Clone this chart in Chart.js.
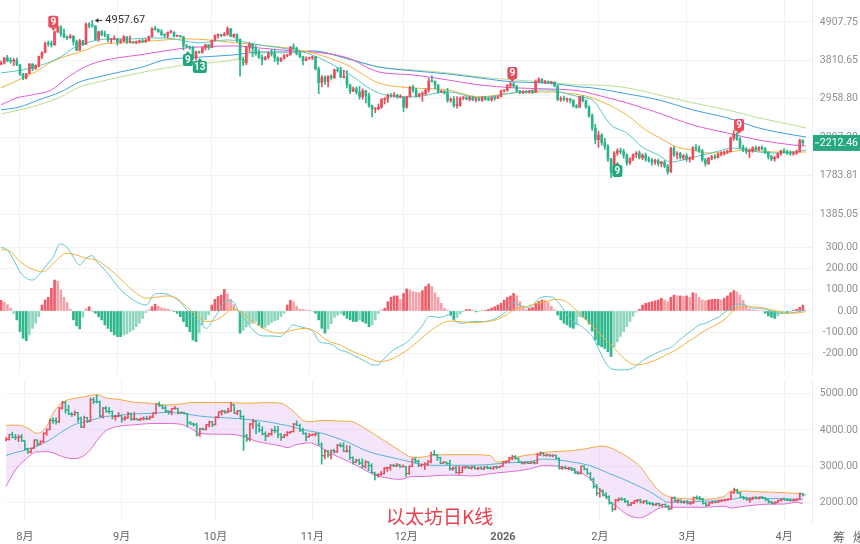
<!DOCTYPE html>
<html>
<head>
<meta charset="utf-8">
<title>以太坊日K线</title>
<script src="https://cdn.jsdelivr.net/npm/chart.js@4.4.1/dist/chart.umd.min.js"></script>
<style>
  html, body { margin: 0; padding: 0; background: #fff; }
  #wrap { position: relative; width: 860px; height: 544px; overflow: hidden; }
  canvas { position: absolute; left: 0; }
  #cPrice { top: 0; }
  #cMacd { top: 230px; }
  #cBoll { top: 375px; }
  .title { position: absolute; left: 386px; top: 506px; font-size: 19px; line-height: 1; color: #e8404e;
           font-family: "Noto Sans CJK SC", sans-serif; }
  .side { position: absolute; top: 531px; font-size: 12px; line-height: 1; color: #666;
          font-family: "Noto Sans CJK SC", sans-serif; }
</style>
</head>
<body>
<div id="wrap">
  <canvas id="cPrice" width="860" height="230"></canvas>
  <canvas id="cMacd" width="860" height="145"></canvas>
  <canvas id="cBoll" width="860" height="169"></canvas>
  <div class="title">以太坊日K线</div>
  <div class="side" style="left:833px">筹</div>
  <div class="side" style="left:853px">爆</div>
</div>
<script>
// day 0 = 2025-08-01, first candle 2025-07-26
const firstDay = -6;
const monthDays = [0, 31, 61, 92, 122, 153, 184, 212, 243];
const monthLabels = ['8月', '9月', '10月', '11月', '12月', '2026', '2月', '3月', '4月'];
const priceTicks = [1385.05, 1783.81, 2297.38, 2958.80, 3810.65, 4907.75];
const macdTicks = [-200, -100, 0, 100, 200, 300];
const bollTicks = [2000, 3000, 4000, 5000];
const lastPrice = 2212.46;

// [open, high, low, close]
const ohlc = [
  // Jul
  [3715,3790,3700,3745],[3745,3880,3720,3875],[3875,3940,3780,3795],[3795,3880,3735,3790],[3790,3860,3680,3810],[3810,3870,3680,3700],
  // Aug
  [3700,3710,3450,3480],[3480,3500,3355,3395],[3395,3500,3370,3495],[3495,3730,3490,3720],[3720,3730,3560,3610],
  [3610,3700,3590,3685],[3685,3920,3650,3910],[3910,4030,3850,4010],[4010,4300,4000,4260],[4260,4330,4180,4255],
  [4255,4330,4160,4225],[4225,4620,4200,4600],[4600,4790,4570,4750],[4750,4785,4460,4545],[4545,4680,4420,4440],
  [4440,4480,4370,4425],[4425,4520,4400,4475],[4475,4480,4220,4310],[4310,4355,4060,4075],[4075,4380,4065,4340],
  [4340,4350,4200,4230],[4230,4880,4230,4830],[4830,4890,4720,4780],[4780,4957.67,4740,4775],[4775,4790,4360,4380],
  [4380,4620,4320,4600],[4600,4640,4480,4510],[4510,4620,4450,4505],[4505,4520,4300,4365],[4365,4400,4270,4370],
  [4370,4480,4360,4390],
  // Sep
  [4390,4400,4210,4300],[4300,4380,4260,4330],[4330,4490,4310,4450],[4450,4460,4260,4300],[4300,4480,4270,4300],
  [4300,4320,4270,4275],[4275,4330,4250,4305],[4305,4360,4270,4310],[4310,4380,4280,4305],[4305,4390,4290,4350],
  [4350,4470,4340,4460],[4460,4720,4440,4710],[4710,4770,4640,4670],[4670,4690,4580,4600],[4600,4670,4480,4520],
  [4520,4530,4430,4500],[4500,4590,4420,4590],[4590,4650,4560,4590],[4590,4600,4440,4470],[4470,4500,4460,4480],
  [4480,4490,4440,4450],[4450,4460,4080,4200],[4200,4230,4150,4165],[4165,4190,4100,4150],[4150,4180,3830,3870],
  [3870,4050,3820,4030],[4030,4050,3990,4015],[4015,4150,3990,4140],[4140,4240,4080,4220],[4220,4230,4090,4145],
  // Oct
  [4145,4360,4140,4350],[4350,4500,4330,4490],[4490,4540,4410,4515],[4515,4530,4450,4490],[4490,4590,4470,4515],
  [4515,4755,4500,4690],[4690,4700,4450,4460],[4460,4540,4420,4525],[4525,4540,4300,4370],[4370,4390,3435,3830],
  [3830,3880,3680,3750],[3750,4180,3700,4160],[4160,4290,4040,4240],[4240,4250,3900,4125],[4125,4200,3940,3990],
  [3990,4090,3860,3890],[3890,3950,3700,3830],[3830,3910,3820,3885],[3885,4030,3850,3985],[3985,4100,3920,3980],
  [3980,4100,3780,3875],[3875,3900,3710,3800],[3800,3880,3780,3855],[3855,3960,3840,3930],[3930,3960,3900,3955],
  [3955,4180,3940,4160],[4160,4250,4110,4120],[4120,4160,3950,3985],[3985,4050,3880,3905],[3905,3920,3700,3810],
  [3810,3900,3800,3850],
  // Nov
  [3850,3890,3840,3875],[3875,3920,3830,3900],[3900,3910,3580,3600],[3600,3650,3060,3290],[3290,3450,3200,3410],
  [3410,3440,3250,3315],[3315,3450,3200,3430],[3430,3470,3360,3400],[3400,3600,3380,3580],[3580,3640,3530,3560],
  [3560,3650,3400,3410],[3410,3570,3390,3420],[3420,3560,3180,3240],[3240,3260,3060,3110],[3110,3200,3100,3160],
  [3160,3200,3050,3090],[3090,3210,2950,3000],[3000,3160,2950,3120],[3120,3130,2880,3020],[3020,3070,2800,2830],
  [2830,2840,2625,2765],[2765,2790,2700,2770],[2770,2860,2750,2800],[2800,2960,2780,2950],[2950,2980,2860,2960],
  [2960,3050,2890,3025],[3025,3060,2990,3010],[3010,3080,2990,3035],[3035,3050,2970,2990],[2990,3040,2980,2990],
  // Dec
  [2990,3000,2720,2800],[2800,3010,2780,3000],[3000,3210,2990,3190],[3190,3240,3090,3135],[3135,3170,2990,3020],
  [3020,3070,2990,3050],[3050,3100,2910,3060],[3060,3160,3030,3130],[3130,3390,3090,3325],[3325,3440,3300,3320],
  [3320,3330,3160,3240],[3240,3250,3070,3085],[3085,3130,3080,3110],[3110,3120,3050,3075],[3075,3170,2890,2930],
  [2930,2980,2890,2950],[2950,3000,2800,2830],[2830,3000,2780,2830],[2830,2990,2820,2975],[2975,3000,2940,2980],
  [2980,3000,2940,2950],[2950,3010,2920,2980],[2980,3010,2920,2940],[2940,2980,2900,2950],[2950,2990,2920,2930],
  [2930,3000,2910,2970],[2970,3010,2930,2950],[2950,2990,2920,2940],[2940,3000,2910,2980],[2980,3010,2930,2970],
  [2970,3010,2960,3000],
  // Jan
  [3000,3130,2990,3120],[3120,3140,3090,3130],[3130,3250,3110,3230],[3230,3300,3180,3260],[3260,3300,3190,3220],
  [3220,3230,3100,3110],[3110,3130,3060,3090],[3090,3120,3060,3100],[3100,3120,3070,3085],[3085,3130,3070,3100],
  [3100,3140,3060,3090],[3090,3350,3080,3320],[3320,3400,3290,3360],[3360,3380,3280,3300],[3300,3340,3270,3310],
  [3310,3330,3270,3290],[3290,3320,3260,3300],[3300,3310,3200,3220],[3220,3230,2920,2950],[2950,3000,2910,2960],
  [2960,3010,2920,2940],[2940,2980,2900,2950],[2950,2970,2880,2930],[2930,2940,2800,2820],[2820,2850,2780,2800],
  [2800,3010,2790,3000],[3000,3020,2900,2920],[2920,2940,2780,2800],[2800,2830,2620,2640],[2640,2680,2400,2440],
  [2440,2500,2200,2260],
  // Feb
  [2260,2390,2150,2330],[2330,2350,2180,2220],[2220,2280,2120,2160],[2160,2190,1960,1990],[1990,2000,1760,1820],
  [1820,2090,1800,2070],[2070,2130,2040,2100],[2100,2140,2060,2090],[2090,2120,2000,2040],[2040,2060,1910,1940],
  [1940,2010,1920,1990],[1990,2060,1970,2050],[2050,2090,2010,2070],[2070,2100,1990,2010],[2010,2060,1980,2040],
  [2040,2070,1960,1990],[1990,2020,1950,1970],[1970,2000,1910,1950],[1950,1990,1920,1970],[1970,1990,1900,1930],
  [1930,1960,1890,1950],[1950,1970,1880,1900],[1900,1920,1800,1830],[1830,2150,1820,2130],[2130,2160,2020,2050],
  [2050,2090,1990,2060],[2060,2080,1990,2010],[2010,2050,1980,2030],
  // Mar
  [2030,2060,1960,1990],[1990,2020,1950,1990],[1990,2160,1980,2140],[2140,2190,2100,2130],[2130,2170,2080,2100],
  [2100,2120,1960,1980],[1980,2000,1900,1930],[1930,2010,1920,2000],[2000,2040,1980,2020],[2020,2050,1990,2010],
  [2010,2070,2000,2050],[2050,2090,2030,2060],[2060,2100,2040,2080],[2080,2110,2060,2090],[2090,2300,2080,2280],
  [2280,2400,2250,2350],[2350,2370,2250,2270],[2270,2290,2130,2150],[2150,2180,2090,2120],[2120,2150,2060,2090],
  [2090,2130,2010,2100],[2100,2160,2080,2140],[2140,2170,2100,2120],[2120,2160,2100,2150],[2150,2170,2110,2130],
  [2130,2150,2060,2080],[2080,2090,1990,2020],[2020,2040,1970,1990],[1990,2030,1960,2010],[2010,2070,2000,2060],
  [2060,2110,2040,2100],
  // Apr
  [2100,2130,2070,2080],[2080,2110,2050,2070],[2070,2100,2040,2060],[2060,2090,2040,2070],[2070,2110,2050,2090],
  [2090,2270,2080,2250],[2250,2260,2180,2212.46]
];

// moving averages: [day, price]
const maTeal = [[-6,3510],[1,3580],[7,3700],[13,3900],[17,4136],[21,4274],[25,4360],[31,4390],[36,4390],[41,4417],[46,4417],[57,4274],[66,4360],[76,4218],[87,4081],[93,3950],[104,3509],[114,3077],[125,2997],[136,3097],[146,2977],[157,3077],[167,3138],[178,2997],[182,2939],[188,2490],[193,2361],[198,2153],[203,2043],[207,1951],[212,1990],[217,2043],[221,2084],[227,2139],[231,2111],[235,2084],[240,2070],[246,2084],[250,2111]];
const maOrange = [[-6,3180],[1,3396],[5,3533],[10,3773],[16,3950],[21,4081],[25,4218],[31,4274],[38,4302],[46,4360],[54,4389],[66,4302],[76,4218],[87,4109],[93,4002],[104,3698],[114,3286],[125,3180],[136,3138],[146,2997],[157,3077],[167,3097],[178,3037],[182,2977],[193,2661],[199,2409],[203,2300],[209,2153],[214,2111],[219,2070],[225,2084],[231,2111],[240,2084],[250,2084]];
const maPink = [[-6,2843],[-1,2977],[4,3037],[10,3138],[15,3396],[20,3626],[25,3773],[31,3873],[38,3950],[46,4055],[53,4136],[68,4190],[76,4136],[87,4055],[93,4028],[104,3880],[114,3533],[125,3463],[136,3351],[146,3243],[157,3180],[167,3159],[178,3117],[182,3057],[193,2881],[203,2696],[214,2490],[225,2361],[235,2255],[246,2182],[250,2168]];
const maBlue = [[-6,2750],[0,2806],[6,2939],[13,3097],[19,3307],[25,3418],[32,3533],[38,3626],[46,3822],[53,3873],[68,3950],[76,4028],[87,4028],[93,4055],[104,3860],[114,3650],[125,3556],[136,3486],[146,3396],[157,3307],[167,3286],[178,3200],[182,3180],[193,3057],[203,2939],[214,2750],[225,2608],[235,2441],[246,2331],[250,2300]];
const maLime = [[-6,2679],[0,2750],[6,2843],[13,2997],[19,3200],[25,3307],[32,3418],[38,3509],[46,3620],[53,3700],[68,3822],[76,4002],[87,4002],[93,4055],[104,3850],[114,3650],[125,3579],[136,3509],[146,3418],[157,3351],[167,3307],[178,3243],[182,3243],[193,3180],[203,3037],[214,2881],[225,2750],[235,2608],[246,2490],[250,2441]];

// TD sequential labels
const tdDays = [10.6, 53.4, 57.2, 156.6, 190, 228.7];
const tdPrices = [4918, 3822, 3650, 3509, 1838, 2490];
const tdLabels = ['9', '9', '13', '9', '9', '9'];
const tdSell = [true, false, false, true, false, true];

// MACD histogram, one value per candle
const macdHist = [
  50,42,30,14,-11,-42,-97,-129,-140,-113,
  -82,-58,-27,28,52,64,107,146,140,100,
  65,40,8,-42,-70,-85,-30,10,20,-3,
  -11,-27,-42,-66,-82,-97,-113,-121,-121,-113,
  -108,-97,-90,-74,-58,-35,-8,5,20,32,
  22,15,12,8,3,-3,-11,-27,-50,-74,
  -97,-137,-145,-105,-66,-42,-19,28,55,68,
  75,102,80,55,30,5,-105,-92,-76,-62,
  -58,-50,-66,-80,-77,-66,-55,-46,-42,-27,
  -11,28,50,44,22,8,7,5,3,-2,
  -11,-42,-82,-105,-85,-60,-30,-20,-12,-20,
  -35,-42,-50,-50,-42,-50,-58,-74,-66,-42,
  -12,5,13,44,64,71,71,55,83,104,
  99,91,88,86,96,115,127,115,85,64,
  36,13,4,-19,-42,-30,-14,-3,7,7,
  2,-4,-2,1,3,8,14,20,28,36,
  52,64,71,83,71,44,23,8,13,17,
  36,45,52,50,40,22,5,-19,-42,-58,
  -66,-77,-82,-66,-27,-30,-40,-62,-95,-137,
  -161,-169,-177,-192,-215,-170,-145,-120,-97,-74,
  -50,-25,-5,8,28,36,40,44,48,52,
  60,52,44,64,75,71,71,68,71,64,
  86,83,64,52,48,52,55,55,55,52,
  60,71,86,96,90,75,50,25,10,5,
  4,2,1,-11,-24,-30,-35,-24,-11,-8,
  -8,-3,3,8,17,28
];
const difLine = [[-6,300],[-4,288],[-2,240],[0,185],[2,155],[4,146],[6,170],[8.5,217],[10.6,256],[12.7,316],[14.8,303],[16.9,256],[19,217],[21,248],[23,261],[24.4,233],[27.5,185],[30.7,123],[33.9,75],[37,44],[40.2,28],[42.4,75],[44.5,83],[47.6,75],[50.8,44],[54,-11],[57.2,-58],[59.3,-82],[61.4,-42],[63.5,5],[65.6,49],[67.8,44],[69.9,-11],[72,-50],[74.1,-90],[76.2,-113],[78.4,-118],[80.5,-118],[82.6,-121],[84.7,-98],[86.8,-66],[89,-74],[91.1,-82],[93.2,-98],[95.3,-145],[97.4,-152],[99.5,-160],[101.7,-184],[103.8,-192],[105.9,-208],[108,-223],[110.1,-239],[112.2,-255],[113.8,-255],[115.4,-231],[117.5,-200],[119.6,-176],[121.8,-160],[123.9,-137],[126,-105],[128.1,-66],[130.2,-25],[133.4,-30],[136.6,-19],[138.7,-50],[140.8,-58],[144,-50],[147.2,-50],[151.4,-35],[154.6,-3],[156.7,36],[158.8,28],[161,17],[163.1,28],[165.2,60],[167.3,68],[169.4,64],[171.5,36],[173.7,-11],[175.8,-50],[177.9,-66],[180,-90],[182.1,-121],[184.2,-184],[186.4,-247],[188.5,-275],[190.6,-278],[192.7,-278],[194.8,-270],[197,-247],[199.1,-223],[201.2,-208],[203.3,-192],[205.4,-181],[207.5,-168],[209.7,-137],[211.8,-113],[213.9,-90],[216,-66],[218.1,-58],[220.2,-42],[222.4,-27],[224.5,-3],[226.6,20],[228.7,33],[230.8,28],[233,13],[235.1,13],[237.2,8],[239.3,-3],[241.4,-11],[243.5,-11],[245.7,-8],[247.8,-3],[249.9,5]];
const deaLine = [[-6,291],[-3,280],[0,233],[4,197],[7.4,185],[10.6,225],[14.8,272],[18,264],[21.2,248],[24.4,240],[27.5,209],[30.7,170],[33.9,123],[37.1,83],[40.2,60],[43.4,65],[46.6,71],[49.8,60],[53,20],[56.1,-19],[59.3,-50],[62.5,-42],[65.6,-11],[67.8,13],[69.9,-3],[74.1,-50],[78.4,-90],[82.6,-105],[86.8,-90],[91.1,-82],[94.2,-98],[97.4,-137],[101.7,-160],[105.9,-192],[110.1,-216],[114.4,-239],[117.5,-231],[120.7,-208],[123.9,-176],[127.1,-137],[130.2,-98],[133.4,-65],[136.6,-48],[139.8,-50],[144,-55],[148.2,-50],[151.4,-42],[154.6,-19],[157.8,13],[161,20],[164.1,36],[167.3,44],[170.5,55],[173.7,44],[176.8,5],[180,-42],[183.2,-90],[186.4,-137],[189.5,-184],[192.7,-231],[195.9,-255],[199.1,-247],[202.2,-231],[205.4,-208],[208.6,-184],[211.8,-152],[215,-121],[218.1,-90],[221.3,-66],[224.5,-35],[226.6,-3],[228.7,17],[231.9,20],[235.1,17],[238.2,8],[241.4,-3],[244.6,-11],[247.8,-8],[249.9,-3]];

// Bollinger bands
const bollDays = [-6,-3,0,4,7,9,11,13,16,19,21,23,26,30,35,40,45,50,53,56,60,65,70,74,78,82,84,87,89,91,94,97,101,104,108,112,116,120,124,127,130,136,143,149,151,155,158,162,166,171,175,180,183,185,187,190,193,197,200,203,206,210,217,221,224,226,230,234,238,243,247,249];
const bollUpper = [4130,4130,4090,3910,4100,4450,4680,4800,4870,4910,4945,4970,4880,4840,4760,4735,4685,4710,4750,4752,4752,4752,4734,4740,4752,4734,4640,4430,4265,4221,4255,4260,4240,4238,4089,3870,3650,3430,3250,3250,3300,3319,3319,3292,3115,3177,3266,3319,3380,3410,3430,3490,3540,3555,3520,3400,3250,2982,2630,2320,2170,2115,2097,2115,2186,2319,2319,2300,2292,2274,2255,2230];
const bollMid = [3300,3380,3440,3560,3680,3780,3900,4010,4150,4220,4265,4310,4370,4400,4440,4455,4480,4460,4420,4380,4350,4330,4300,4260,4220,4150,4120,4050,4010,3970,3930,3860,3740,3640,3470,3350,3270,3190,3110,3050,3027,3027,3030,3050,3070,3095,3110,3140,3200,3170,3120,3040,2950,2880,2800,2700,2590,2430,2300,2140,2010,2020,2040,2050,2080,2090,2140,2125,2115,2105,2100,2097];
const bollLower = [2450,2900,3170,3400,3400,3370,3300,3240,3210,3300,3460,3700,3980,4100,4140,4175,4177,4155,4050,3905,3885,3885,3823,3690,3620,3560,3515,3600,3625,3646,3560,3400,3230,3120,2940,2760,2680,2640,2720,2720,2735,2760,2735,2800,2820,2850,2880,2938,3020,3000,2900,2717,2451,2250,2050,1850,1660,1584,1700,1849,1876,1876,1876,1890,1903,1855,1903,1938,1960,1965,2009,1965];

const UP = '#eb4d5c';
const DOWN = '#2bb38a';
const GRID = '#f2f2f2';
Chart.defaults.font.family = 'Roboto, "Noto Sans CJK SC", sans-serif';

const days = ohlc.map((c, i) => firstDay + i);
const isUp = i => ohlc[i][3] >= ohlc[i][0];
const candleColor = ctx => isUp(ctx.dataIndex) ? UP : DOWN;
const pts = arr => arr.map(p => ({ x: p[0], y: p[1] }));

function xAxis(showLabels) {
  return {
    type: 'linear', min: -6.35, max: 251.9, offset: false, bounds: 'data',
    afterBuildTicks: s => { s.ticks = monthDays.map(v => ({ value: v })); },
    afterFit: s => { s.height = showLabels ? 22 : 0; s.paddingLeft = 0; s.paddingRight = 0; },
    grid: { color: GRID, drawTicks: false, offset: false },
    border: { display: false },
    ticks: {
      display: showLabels, padding: 9, color: '#666', maxRotation: 0, autoSkip: false,
      font: ctx => ({ size: 11, weight: ctx.tick && ctx.tick.value === 153 ? 'bold' : 'normal' }),
      callback: (v, i) => monthLabels[i]
    }
  };
}

function yAxis(type, min, max, tickValues) {
  return {
    type, min, max, position: 'right', bounds: 'data',
    afterBuildTicks: s => { s.ticks = tickValues.map(v => ({ value: v })); },
    afterFit: s => { s.width = 48; s.paddingTop = 0; s.paddingBottom = 0; },
    grid: { color: GRID, drawTicks: false },
    border: { display: true, color: '#ececec' },
    ticks: { display: false }
  };
}

// value labels right-aligned against the page edge, placed by the y scale
const rightLabels = {
  id: 'rightLabels',
  afterDraw(chart) {
    const { ctx, scales: { y } } = chart;
    ctx.save();
    ctx.font = '10.5px Roboto, sans-serif';
    ctx.fillStyle = '#8f8f8f';
    ctx.textAlign = 'right';
    ctx.textBaseline = 'middle';
    y.ticks.forEach(t => ctx.fillText(Number(t.value).toFixed(2), chart.width - 2, y.getPixelForValue(t.value)));
    ctx.restore();
  }
};

const baseOptions = (xShow, y) => ({
  responsive: false,
  animation: false,
  events: [],
  layout: { padding: 0 },
  plugins: { legend: { display: false }, tooltip: { enabled: false } },
  scales: { x: xAxis(xShow), y }
});

const maLine = (arr, color) => ({
  type: 'line', data: pts(arr), borderColor: color, borderWidth: 1,
  pointRadius: 0, cubicInterpolationMode: 'monotone', order: 3
});

// labels drawn on the price panel
const priceMarks = {
  id: 'priceMarks',
  afterDraw(chart) {
    const { ctx, chartArea, scales: { x, y } } = chart;
    ctx.save();
    ctx.textAlign = 'center';
    ctx.textBaseline = 'middle';
    ctx.font = 'bold 10px Roboto, sans-serif';
    tdDays.forEach((d, i) => {
      const px = x.getPixelForValue(d);
      const py = y.getPixelForValue(tdPrices[i]);
      const w = tdLabels[i].length > 1 ? 14 : 10, h = 12;
      ctx.fillStyle = tdSell[i] ? '#e84d5b' : '#22a67c';
      ctx.beginPath();
      ctx.roundRect(px - w / 2, py - h / 2, w, h, 2);
      ctx.fill();
      ctx.beginPath();
      if (tdSell[i]) {
        ctx.moveTo(px - 2.5, py + h / 2); ctx.lineTo(px + 2.5, py + h / 2); ctx.lineTo(px, py + h / 2 + 3);
      } else {
        ctx.moveTo(px - 2.5, py - h / 2); ctx.lineTo(px + 2.5, py - h / 2); ctx.lineTo(px, py - h / 2 - 3);
      }
      ctx.fill();
      ctx.fillStyle = '#fff';
      ctx.fillText(tdLabels[i], px, py + 0.5);
    });

    // highest high note
    let top = 0;
    ohlc.forEach((c, i) => { if (c[1] > ohlc[top][1]) top = i; });
    const hx = x.getPixelForValue(days[top]);
    const hy = y.getPixelForValue(ohlc[top][1]);
    ctx.strokeStyle = '#333';
    ctx.fillStyle = '#333';
    ctx.lineWidth = 1;
    ctx.beginPath(); ctx.moveTo(hx + 3, hy); ctx.lineTo(hx + 10, hy); ctx.stroke();
    ctx.beginPath(); ctx.moveTo(hx + 3, hy); ctx.lineTo(hx + 6, hy - 2.5); ctx.lineTo(hx + 6, hy + 2.5); ctx.fill();
    ctx.textAlign = 'left';
    ctx.font = '11px Roboto, sans-serif';
    ctx.fillText(ohlc[top][1].toFixed(2), hx + 13, hy);

    // last price badge
    const ly = y.getPixelForValue(lastPrice);
    ctx.fillStyle = '#27a882';
    ctx.fillRect(chartArea.right + 1, ly - 8, chart.width - chartArea.right - 1, 16);
    ctx.strokeStyle = '#fff';
    ctx.beginPath(); ctx.moveTo(chartArea.right + 3, ly); ctx.lineTo(chartArea.right + 7, ly); ctx.stroke();
    ctx.fillStyle = '#fff';
    ctx.textAlign = 'right';
    ctx.font = '10.5px Roboto, sans-serif';
    ctx.fillText(lastPrice.toFixed(2), chart.width - 2, ly + 0.5);
    ctx.restore();
  }
};

// 1. candles with moving averages
new Chart(document.getElementById('cPrice'), {
  type: 'bar',
  data: {
    datasets: [
      { data: ohlc.map((c, i) => ({ x: days[i], y: [c[2], c[1]] })), backgroundColor: candleColor,
        barThickness: 1, grouped: false, order: 1 },
      { data: ohlc.map((c, i) => ({ x: days[i], y: [c[0], c[3]] })), backgroundColor: candleColor,
        barThickness: 2, minBarLength: 1, grouped: false, order: 0 },
      maLine(maTeal, '#55c8c8'),
      maLine(maOrange, '#f4b13e'),
      maLine(maPink, '#e45bd0'),
      maLine(maBlue, '#3f9fe0'),
      maLine(maLime, '#b9de92')
    ]
  },
  options: baseOptions(false, yAxis('logarithmic', 1247, 5671, priceTicks)),
  plugins: [rightLabels, priceMarks]
});

// 2. MACD
const histColor = ctx => {
  const i = ctx.dataIndex, v = macdHist[i], p = i > 0 ? macdHist[i - 1] : 0;
  const growing = Math.abs(v) >= Math.abs(p);
  if (v >= 0) return growing ? '#ee5b69' : '#f4a0a8';
  return growing ? '#2eb68c' : '#8ed7be';
};
new Chart(document.getElementById('cMacd'), {
  type: 'bar',
  data: {
    datasets: [
      { data: macdHist.map((v, i) => ({ x: days[i], y: v })), backgroundColor: histColor,
        barThickness: 2, grouped: false, order: 2 },
      { type: 'line', data: pts(difLine), borderColor: '#5cc8d2', borderWidth: 1, pointRadius: 0,
        cubicInterpolationMode: 'monotone', order: 1 },
      { type: 'line', data: pts(deaLine), borderColor: '#f2b23d', borderWidth: 1, pointRadius: 0,
        cubicInterpolationMode: 'monotone', order: 0 }
    ]
  },
  options: baseOptions(false, yAxis('linear', -302, 382, macdTicks)),
  plugins: [rightLabels]
});

// 3. Bollinger bands with OHLC bars
const band = (vals, color, extra) => Object.assign({
  type: 'line', data: bollDays.map((d, i) => ({ x: d, y: vals[i] })), borderColor: color,
  borderWidth: 1, pointRadius: 0, cubicInterpolationMode: 'monotone', fill: false, order: 4
}, extra);
const tickColor = ctx => isUp(ctx.dataIndex) ? UP : DOWN;
new Chart(document.getElementById('cBoll'), {
  type: 'bar',
  data: {
    datasets: [
      band(bollUpper, '#f3a83b', { fill: '+1', backgroundColor: 'rgba(222,170,242,0.3)' }),
      band(bollLower, '#e060c8'),
      band(bollMid, '#55b3d3', { order: 3 }),
      { data: ohlc.map((c, i) => ({ x: days[i], y: [c[2], c[1]] })), backgroundColor: candleColor,
        barThickness: 1, grouped: false, order: 1 },
      { type: 'line', showLine: false, data: ohlc.map((c, i) => ({ x: days[i] - 0.45, y: c[0] })),
        pointStyle: 'line', pointRadius: 1.3, pointBorderWidth: 1, pointBorderColor: tickColor, order: 0 },
      { type: 'line', showLine: false, data: ohlc.map((c, i) => ({ x: days[i] + 0.45, y: c[3] })),
        pointStyle: 'line', pointRadius: 1.3, pointBorderWidth: 1, pointBorderColor: tickColor, order: 0 }
    ]
  },
  options: baseOptions(true, yAxis('linear', 1469, 5372, bollTicks)),
  plugins: [rightLabels]
});
</script>
</body>
</html>
